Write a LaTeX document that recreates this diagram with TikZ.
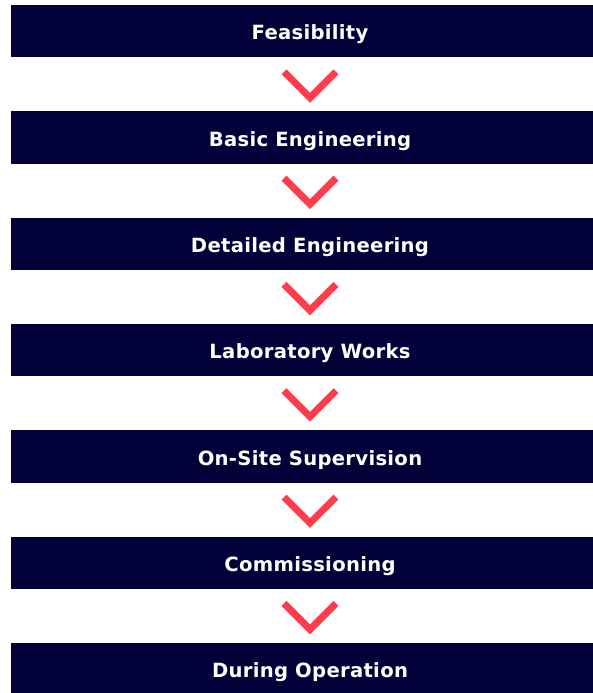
\documentclass[tikz,border=0pt]{standalone}
\usepackage{fontspec}
\setmainfont{DejaVu Sans}[LetterSpace=1.5]
\definecolor{navy}{RGB}{2,0,56}
\definecolor{chevred}{RGB}{255,60,76}
\begin{document}
\begin{tikzpicture}[x=1pt,y=-1pt,
  stage/.style={fill=navy,text=white,minimum width=598pt,minimum height=52.4pt,
    inner sep=0pt,text height=14.3pt,text depth=0pt,font=\fontsize{19.6}{24}\selectfont\bfseries},
  chev/.style={draw=chevred,line width=7pt,line cap=butt,line join=miter}]
\useasboundingbox (0,0) rectangle (593,693);
\clip (0,0) rectangle (593,693);
\foreach \t [count=\i from 0] in {Feasibility,Basic Engineering,Detailed Engineering,Laboratory Works,On-Site Supervision,Commissioning,During Operation}{
  \node[stage] (b\i) at (310,{31.2+106.3*\i}) {\raisebox{-1.5pt}{\t}};
}
\foreach \i in {0,...,5}{
  \draw[chev] ([xshift=-26pt,yshift=-14.2pt]b\i.south) -- ([yshift=-40.2pt]b\i.south) -- ([xshift=26pt,yshift=-14.2pt]b\i.south);
}
\end{tikzpicture}
\end{document}
